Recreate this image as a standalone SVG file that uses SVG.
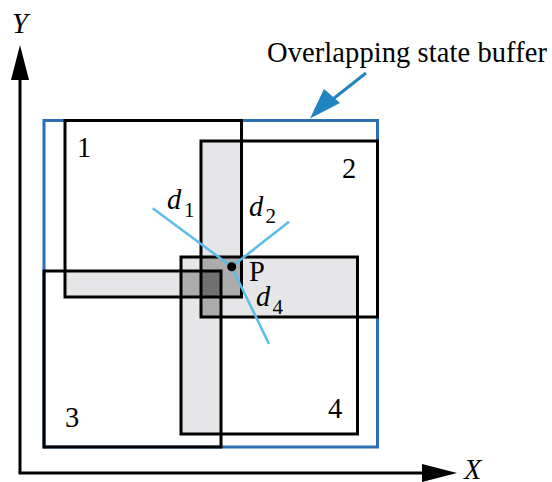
<svg xmlns="http://www.w3.org/2000/svg" width="552" height="482" viewBox="0 0 552 482">
<defs>
<style>
.t{font-family:"Liberation Serif","Times New Roman",serif;fill:#000}
.big{font-size:28.5px}
.it{font-style:italic}
.sub{font-size:21px}
.box{fill:none;stroke:#000;stroke-width:3}
.light{fill:#e6e6e8}
.mid{fill:#acacad}
.dark{fill:#6f7271}
.dist{stroke:#5bbde9;stroke-width:2.5;fill:none}
.axis{stroke:#000;stroke-width:3;fill:none}
</style>
</defs>
<rect width="552" height="482" fill="#fff"/>
<g id="overlaps">
<rect class="light" x="201" y="141" width="40.5" height="156"/>
<rect class="light" x="65" y="271" width="156" height="26"/>
<rect class="light" x="201" y="257" width="156.5" height="60"/>
<rect class="light" x="181" y="257" width="40" height="177"/>
<rect class="mid" x="201" y="257" width="40.5" height="40"/>
<rect class="mid" x="181" y="271" width="40" height="26"/>
<rect class="mid" x="201" y="271" width="20" height="46"/>
<rect class="dark" x="201" y="271" width="20" height="26"/>
</g>
<g id="buffer">
<rect x="44" y="120.5" width="333.5" height="326.5" fill="none" stroke="#2c6fb3" stroke-width="3"/>
</g>
<g id="region1">
<rect class="box" x="65" y="120.5" width="176.5" height="176.5"/>
<text class="t big" x="77" y="157">1</text>
</g>
<g id="region2">
<rect class="box" x="201" y="141" width="176.5" height="176"/>
<text class="t big" x="342" y="178">2</text>
</g>
<g id="region3">
<rect class="box" x="44" y="271" width="177" height="176"/>
<text class="t big" x="65" y="427">3</text>
</g>
<g id="region4">
<rect class="box" x="181" y="257" width="176.5" height="177"/>
<text class="t big" x="328" y="418">4</text>
</g>
<g id="axes">
<line class="axis" x1="20" y1="473" x2="20" y2="75"/>
<polygon points="20,45 11,80 29,80" fill="#000"/>
<line class="axis" x1="18.5" y1="473" x2="425" y2="473"/>
<polygon points="457,473 422,464 422,482" fill="#000"/>
<text class="t big it" x="12" y="33">Y</text>
<text class="t big it" x="464" y="479">X</text>
</g>
<g id="connectors">
<line class="dist" x1="152.7" y1="208.3" x2="231.7" y2="266.7"/>
<line class="dist" x1="289" y1="221.7" x2="231.7" y2="266.7"/>
<line class="dist" x1="231.7" y1="266.7" x2="269" y2="344"/>
<line x1="366" y1="73" x2="333" y2="99" stroke="#1f84bf" stroke-width="3"/>
<polygon points="310,118.5 324,89 340,103" fill="#1f84bf"/>
</g>
<g id="point-P">
<circle cx="231.7" cy="266.7" r="4.5" fill="#000"/>
<text class="t big" x="249" y="280.5">P</text>
</g>
<g id="labels">
<text class="t big it" x="167" y="209">d</text><text class="t sub" x="184" y="216.5">1</text>
<text class="t big it" x="249" y="215.5">d</text><text class="t sub" x="265.5" y="223">2</text>
<text class="t big it" x="256" y="306">d</text><text class="t sub" x="272.5" y="313.5">4</text>
<text class="t big" x="267" y="61.5" textLength="280" lengthAdjust="spacing">Overlapping state buffer</text>
</g>
</svg>
